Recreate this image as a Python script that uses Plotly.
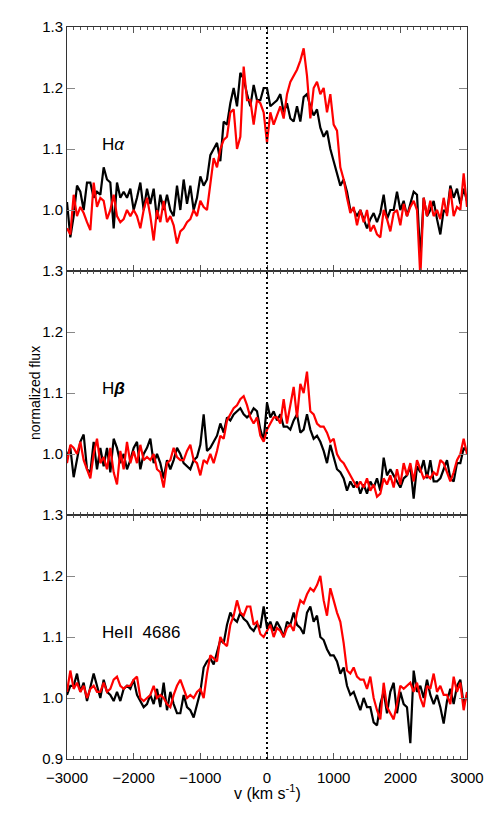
import plotly.graph_objects as go
from plotly.subplots import make_subplots

# velocity grid (km/s), 50 km/s sampling
velocity = list(range(-3000, 3001, 50))

# H-alpha
ha_black = [
    1.013, 0.955, 0.99, 1.04, 1.03, 1.00, 1.045, 1.045, 1.02, 1.03,
    1.025, 1.07, 1.05, 1.045, 0.97, 1.045, 1.02, 1.03, 1.02, 1.035,
    1.00, 1.02, 1.045, 1.00, 1.035, 1.01, 1.035, 0.985, 1.025, 1.00,
    1.025, 1.00, 0.99, 1.04, 1.00, 1.05, 1.01, 1.04, 1.00, 1.02,
    1.055, 1.04, 1.05, 1.09, 1.10, 1.11, 1.08, 1.145, 1.14, 1.175,
    1.20, 1.17, 1.225, 1.215, 1.19, 1.17, 1.205, 1.18, 1.18, 1.20,
    1.20, 1.17, 1.175, 1.18, 1.19, 1.16, 1.175, 1.15, 1.145, 1.17,
    1.145, 1.185, 1.19, 1.17, 1.155, 1.165, 1.135, 1.12, 1.13, 1.10,
    1.08, 1.06, 1.04, 1.05, 1.03, 1.00, 1.00, 0.99, 1.00, 0.985,
    0.97, 0.985, 0.995, 0.98, 0.995, 1.025, 0.985, 1.00, 1.00, 1.03,
    1.00, 1.015, 0.99, 1.01, 1.03, 1.025, 0.92, 1.02, 0.99, 1.00,
    1.015, 0.985, 0.96, 1.00, 0.995, 1.04, 1.02, 1.035, 1.01, 1.035,
    1.015,
]
ha_red = [
    0.97, 0.96, 1.025, 0.99, 1.005, 0.995, 0.98, 0.967, 1.045, 1.005,
    1.02, 1.015, 0.985, 1.00, 1.025, 0.99, 0.98, 0.985, 1.00, 0.99,
    1.00, 0.99, 0.97, 1.00, 1.02, 0.99, 0.95, 1.00, 0.98, 1.015,
    0.98, 0.99, 0.975, 0.945, 0.965, 0.97, 0.98, 0.985, 1.00, 0.99,
    1.015, 1.005, 1.00, 1.04, 1.085, 1.07, 1.10, 1.115, 1.12, 1.16,
    1.165, 1.10, 1.12, 1.235, 1.18, 1.18, 1.14, 1.18, 1.175, 1.16,
    1.11, 1.16, 1.14, 1.155, 1.17, 1.15, 1.19, 1.21, 1.22, 1.23,
    1.245, 1.265, 1.22, 1.15, 1.20, 1.21, 1.19, 1.20, 1.16, 1.19,
    1.14, 1.13, 1.07, 1.05, 1.02, 0.995, 1.005, 0.975, 1.00, 0.98,
    1.00, 0.965, 0.975, 0.96, 0.955, 1.00, 0.985, 0.965, 0.995, 1.00,
    0.975, 1.01, 0.99, 1.005, 1.015, 1.00, 0.89, 1.02, 0.99, 1.015,
    0.99, 1.00, 0.985, 1.02, 0.99, 1.035, 0.99, 1.005, 1.00, 1.06,
    1.005,
]

# H-beta
hb_black = [
    0.997, 1.01, 0.962, 0.99, 1.02, 1.032, 0.975, 0.97, 1.02, 0.975,
    1.01, 0.98, 1.01, 0.97, 1.025, 1.01, 0.985, 1.00, 0.975, 0.99,
    1.01, 1.02, 0.975, 1.00, 1.01, 1.025, 0.985, 1.00, 0.985, 0.96,
    0.99, 0.975, 0.99, 1.01, 1.00, 0.985, 0.98, 0.975, 0.99, 0.995,
    1.015, 1.065, 1.005, 1.01, 1.02, 1.03, 1.05, 1.035, 1.06, 1.055,
    1.065, 1.07, 1.075, 1.065, 1.06, 1.065, 1.075, 1.07, 1.04, 1.022,
    1.084, 1.06, 1.07, 1.055, 1.065, 1.045, 1.045, 1.04, 1.055, 1.065,
    1.035, 1.04, 1.065, 1.04, 1.025, 1.03, 1.02, 1.005, 0.985, 1.015,
    0.995, 0.975, 0.97, 0.96, 0.94, 0.955, 0.945, 0.955, 0.935, 0.95,
    0.935, 0.955, 0.945, 0.96, 0.94, 0.994, 0.965, 0.975, 0.965, 0.955,
    0.945, 0.96, 0.965, 0.98, 0.927, 0.98, 0.97, 0.99, 0.96, 0.99,
    0.955, 0.955, 0.96, 0.975, 0.99, 0.96, 0.955, 0.985, 0.985, 1.01,
    1.005,
]
hb_red = [
    0.985, 1.015, 1.01, 1.00, 1.02, 0.99, 0.975, 0.96, 1.00, 1.025,
    0.985, 0.995, 0.975, 1.01, 0.97, 0.95, 1.005, 0.975, 1.02, 0.985,
    1.005, 0.985, 1.015, 0.99, 0.995, 0.99, 1.00, 0.975, 0.97, 0.945,
    0.985, 0.99, 1.01, 0.995, 0.99, 0.99, 1.005, 1.015, 0.99, 0.985,
    0.965, 0.99, 0.985, 1.00, 0.985, 1.005, 1.03, 1.025, 1.055, 1.065,
    1.075, 1.08, 1.09, 1.095, 1.08, 1.06, 1.05, 1.06, 1.03, 1.02,
    1.04, 1.05, 1.06, 1.06, 1.05, 1.09, 1.05, 1.08, 1.11, 1.06,
    1.115, 1.10, 1.135, 1.07, 1.065, 1.05, 1.045, 1.045, 1.035, 1.02,
    1.025, 1.00, 0.99, 0.985, 0.975, 0.965, 0.955, 0.945, 0.955, 0.945,
    0.96, 0.94, 0.95, 0.93, 0.935, 0.96, 0.95, 0.965, 0.945, 0.975,
    0.95, 0.985, 0.965, 0.985, 0.955, 0.99, 0.975, 0.96, 0.965, 0.96,
    0.97, 0.965, 0.99, 0.985, 0.97, 0.955, 0.97, 0.99, 1.00, 1.025,
    1.00,
]

# HeII 4686
he_black = [
    1.005, 1.02, 1.02, 1.04, 1.01, 1.025, 0.995, 1.02, 1.04, 1.02,
    1.00, 1.03, 1.01, 1.005, 0.995, 1.01, 0.995, 1.015, 1.02, 1.015,
    1.03, 1.005, 0.995, 0.985, 0.99, 1.005, 0.99, 1.015, 0.985, 1.025,
    0.98, 1.01, 0.99, 0.975, 0.975, 1.005, 0.985, 0.98, 0.968, 0.99,
    1.01, 1.05, 1.06, 1.065, 1.055, 1.075, 1.095, 1.09, 1.12, 1.14,
    1.13, 1.125, 1.14, 1.13, 1.125, 1.115, 1.11, 1.12, 1.115, 1.15,
    1.115, 1.125, 1.11, 1.125, 1.115, 1.10, 1.125, 1.12, 1.14, 1.12,
    1.115, 1.105, 1.14, 1.15, 1.125, 1.135, 1.10, 1.095, 1.08, 1.07,
    1.07, 1.06, 1.04, 1.05, 1.02, 1.005, 1.01, 0.995, 0.98, 1.00,
    0.985, 0.985, 0.96, 0.955, 0.99, 1.01, 0.975, 1.01, 1.025, 0.975,
    1.01, 0.99, 0.985, 0.926, 1.045, 1.01, 1.02, 1.00, 1.03, 1.005,
    0.99, 1.005, 0.985, 0.958, 0.995, 1.015, 0.99, 1.02, 1.03, 0.99,
    1.005,
]
he_red = [
    1.01, 1.045, 1.015, 1.025, 1.01, 1.02, 1.00, 1.015, 1.02, 1.01,
    1.01, 1.025, 1.01, 1.015, 1.03, 1.035, 1.02, 1.015, 1.02, 1.02,
    1.03, 1.035, 1.00, 0.995, 1.00, 1.005, 1.02, 1.00, 1.005, 1.00,
    0.99, 0.985, 1.005, 1.02, 1.03, 1.015, 1.00, 1.005, 1.00, 1.01,
    1.015, 1.00, 1.04, 1.07, 1.065, 1.06, 1.10, 1.09, 1.085, 1.12,
    1.135, 1.16, 1.14, 1.135, 1.15, 1.15, 1.12, 1.125, 1.105, 1.10,
    1.11, 1.12, 1.10, 1.115, 1.11, 1.10, 1.115, 1.12, 1.11, 1.14,
    1.16, 1.155, 1.17, 1.18, 1.175, 1.185, 1.20, 1.16, 1.135, 1.18,
    1.16, 1.14, 1.125, 1.09, 1.045, 1.04, 1.05, 1.035, 1.03, 1.03,
    1.015, 1.035, 1.00, 0.98, 0.965, 1.025, 0.985, 0.975, 0.965, 0.99,
    1.02, 1.015, 1.02, 1.025, 1.01, 1.025, 1.00, 0.985, 1.02, 1.015,
    1.04, 1.01, 1.02, 1.005, 1.005, 0.99, 1.035, 1.01, 1.025, 0.98,
    1.01,
]

line_labels = ["H<i>α</i>", "H<b><i>β</i></b>", "HeII  4686"]
panels = [(ha_black, ha_red), (hb_black, hb_red), (he_black, he_red)]

fig = make_subplots(rows=3, cols=1, shared_xaxes=True, vertical_spacing=0)

for i, (blk, red) in enumerate(panels):
    row = i + 1
    fig.add_trace(go.Scatter(x=velocity, y=blk, mode='lines',
                             line=dict(color='black', width=2.2),
                             showlegend=False), row=row, col=1)
    fig.add_trace(go.Scatter(x=velocity, y=red, mode='lines',
                             line=dict(color='#ff0000', width=2.2),
                             showlegend=False), row=row, col=1)
    fig.add_annotation(x=-2500, y=1.107, xref='x%s' % ('' if row == 1 else row),
                       yref='y%s' % ('' if row == 1 else row),
                       text=line_labels[i], showarrow=False, xanchor='left',
                       font=dict(size=17, color='black'))

    yticks = [1.0, 1.1, 1.2, 1.3] if row < 3 else [0.9, 1.0, 1.1, 1.2, 1.3]
    fig.update_yaxes(range=[0.9, 1.3], tickvals=yticks, tickformat='.1f',
                     ticks='inside', ticklen=8, tickcolor='#888',
                     showline=True, linecolor='#333', linewidth=1, mirror='ticks',
                     showgrid=False, zeroline=False, row=row, col=1)
    fig.update_xaxes(range=[-3000, 3000], tickvals=list(range(-3000, 3001, 1000)),
                     ticks='inside', ticklen=6, tickcolor='#555',
                     minor=dict(dtick=100, ticks='inside', ticklen=3, tickcolor='#555'),
                     showline=True, linecolor='#333', linewidth=1, mirror='ticks',
                     showgrid=False, zeroline=False, row=row, col=1)

# push the bottom tick labels down a little, as in the reference
fig.update_xaxes(ticklabelstandoff=5, row=3, col=1)

# zero-velocity marker through all panels
fig.add_shape(type='line', x0=0, x1=0, y0=0, y1=1, xref='x', yref='paper',
              line=dict(color='black', width=2, dash='2px,3px'))

fig.add_annotation(x=-0.105, y=0.5, xref='paper', yref='paper', text='normalized flux',
                   textangle=-90, showarrow=False, font=dict(size=14, color='black'))
fig.add_annotation(x=0.5, y=-0.045, xref='paper', yref='paper',
                   text='v (km s<sup>-1</sup>)', showarrow=False, yanchor='middle',
                   font=dict(size=16, color='black'))

# page body adds an 8px offset, so margins are shifted to keep the plot box in place
fig.update_layout(
    width=500, height=817,
    paper_bgcolor='white', plot_bgcolor='white',
    font=dict(family='Liberation Sans', size=15, color='black'),
    margin=dict(l=59, r=41, t=10, b=66),
    showlegend=False,
)

fig.write_html("out.html")
